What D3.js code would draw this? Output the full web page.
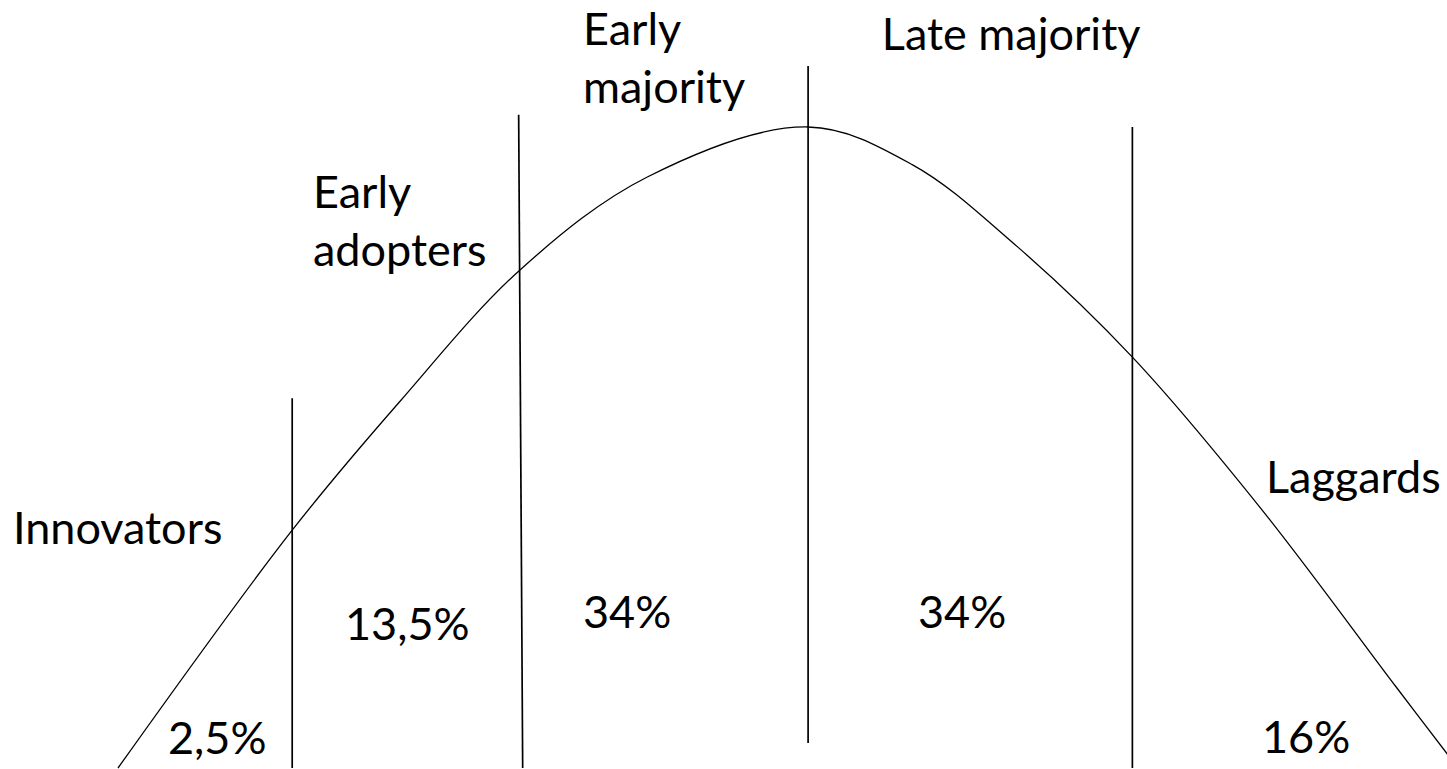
<!DOCTYPE html>
<html>
<head>
<meta charset="utf-8">
<script src="https://cdn.jsdelivr.net/npm/d3@7"></script>
<style>
  html, body { margin: 0; padding: 0; background: #fff; }
  svg { display: block; }
  text { font-family: Lato, "Noto Sans", sans-serif; font-size: 45px; fill: #000; }
</style>
</head>
<body>
<svg id="chart"></svg>
<script>
// adoption curve
// x = time (0..100), y = share of the peak (0..100)
var curveX = [0, 13.0, 21.0, 30.0, 39.5, 51.5, 59.3, 66.8, 75.7, 85.4, 95.4, 100];
var curveY = [0, 37.1, 57.1, 77.7, 92.2, 100, 94.1, 81.9, 64.1, 40.2, 12.6, 0];

// the five groups and their shares
var groups = ["Innovators", "Early adopters", "Early majority", "Late majority", "Laggards"];
var shares = ["2,5%", "13,5%", "34%", "34%", "16%"];

// dividers between the groups (same units as the curve)
var dividerXTop    = [13.0, 29.9, 51.5, 75.7];
var dividerXBottom = [13.0, 30.2, 51.5, 75.7];
var dividerTop     = [57.7, 101.9, 109.5, 100];
var dividerBottom  = [0, 0, 3.9, 0];

var width = 1447, height = 769;

var svg = d3.select("#chart")
    .attr("width", width)
    .attr("height", height);

// scales = just math, time -> px and share -> px
var x = d3.scaleLinear().domain([0, 100]).range([118, 1458]);
var y = d3.scaleLinear().domain([0, 100]).range([768, 127]);

var pts = curveX.map(function(d, i) { return [d, curveY[i]]; });

var line = d3.line()
    .x(function(d) { return x(d[0]); })
    .y(function(d) { return y(d[1]); })
    .curve(d3.curveCatmullRom.alpha(0.5));

svg.append("path")
    .datum(pts)
    .attr("d", line)
    .attr("fill", "none")
    .attr("stroke", "#000")
    .attr("stroke-width", 1.3);

svg.selectAll(".divider")
    .data(dividerXTop)
  .enter().append("line")
    .attr("class", "divider")
    .attr("x1", function(d) { return x(d); })
    .attr("x2", function(d, i) { return x(dividerXBottom[i]); })
    .attr("y1", function(d, i) { return y(dividerTop[i]); })
    .attr("y2", function(d, i) { return y(dividerBottom[i]); })
    .attr("stroke", "#000")
    .attr("stroke-width", 1.7);

// label placement, in the same units as the curve
var groupPos = [[-7.84, 34.95], [14.55, 87.36], [34.7, 112.79], [57.0, 112.0], [85.67, 42.9]];
var sharePos = [[3.73, 2.18], [16.94, 19.97], [34.7, 21.84], [59.7, 21.84], [85.37, 2.34]];
var lineGap = 58;

svg.selectAll(".group")
    .data(groups)
  .enter().append("text")
    .attr("class", "group")
    .attr("x", function(d, i) { return x(groupPos[i][0]); })
    .attr("y", function(d, i) { return y(groupPos[i][1]); })
    .each(function(d, i) {
      // the two "Early ..." labels are broken over two lines
      var t = d3.select(this);
      var words = (i === 1 || i === 2) ? d.split(" ") : [d];
      words.forEach(function(w, j) {
        t.append("tspan")
          .attr("x", x(groupPos[i][0]))
          .attr("dy", j === 0 ? 0 : lineGap)
          .text(w);
      });
    });

svg.selectAll(".share")
    .data(shares)
  .enter().append("text")
    .attr("class", "share")
    .attr("x", function(d, i) { return x(sharePos[i][0]); })
    .attr("y", function(d, i) { return y(sharePos[i][1]); })
    .text(function(d) { return d; });
</script>
</body>
</html>
